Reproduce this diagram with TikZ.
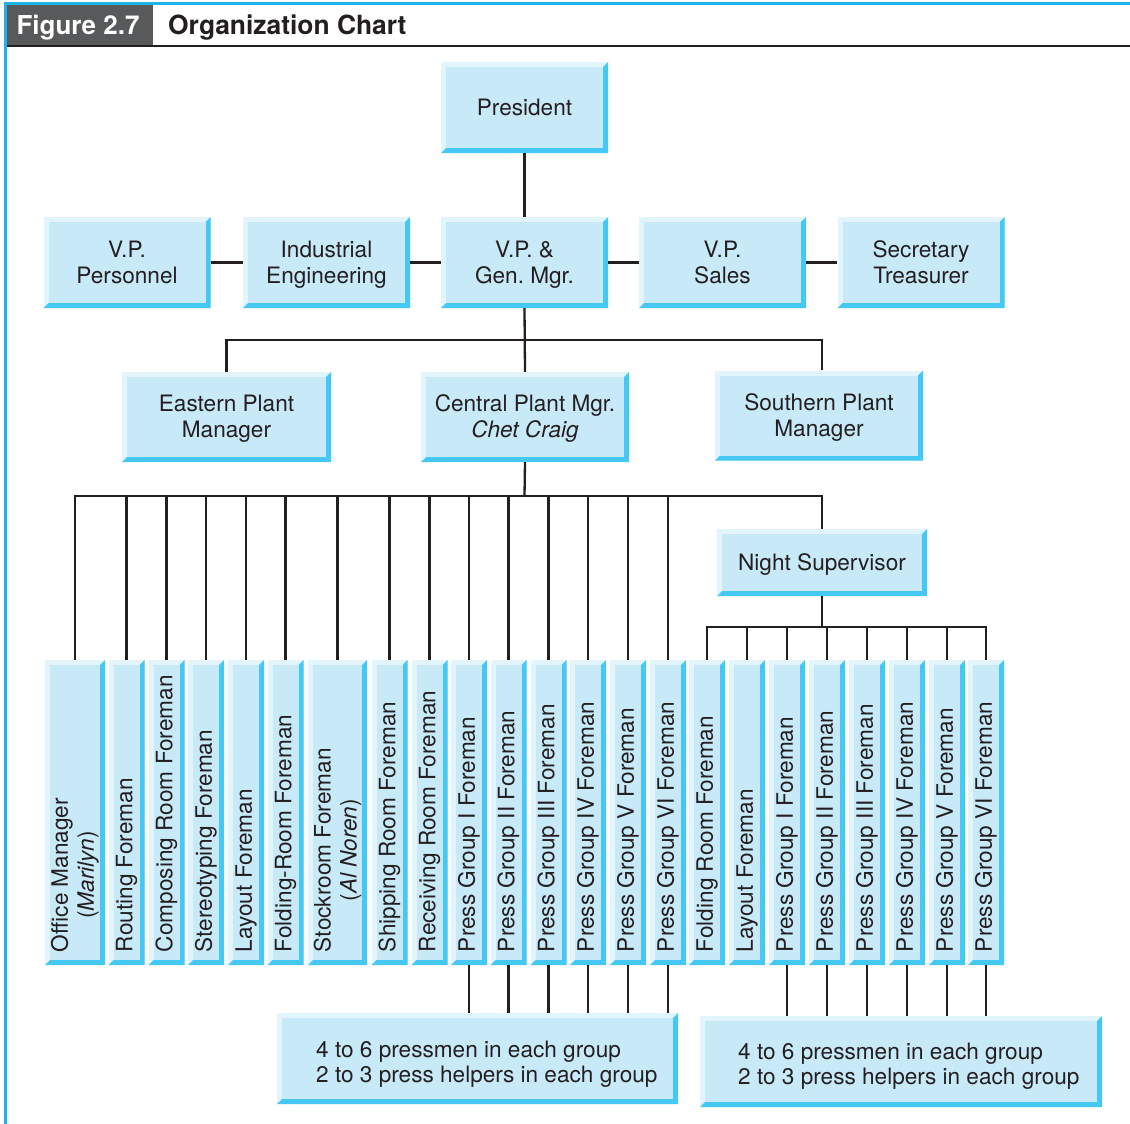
\documentclass[tikz,border=0pt]{standalone}
\usepackage{fontspec}
\setmainfont{TeX Gyre Heros}
\usetikzlibrary{calc}
\frenchspacing
\definecolor{boxmain}{HTML}{C8E9F8}
\definecolor{boxlight}{HTML}{E2F4FC}
\definecolor{boxdark}{HTML}{45C8F4}
\definecolor{framecol}{HTML}{1EB4E9}
\definecolor{headgray}{HTML}{58595B}
\definecolor{ink}{HTML}{231F20}
\newcommand\lnst{\rule[-5pt]{0pt}{25pt}}
\tikzset{
  bevel/.style={rectangle, inner sep=0pt, fill=boxlight, text=ink,
    font=\fontsize{22.6}{26}\selectfont, align=center,
    path picture={
      \fill[boxdark] (path picture bounding box.north east)
        -- (path picture bounding box.south east)
        -- (path picture bounding box.south west)
        -- ([shift={(5pt,5pt)}]path picture bounding box.south west)
        -- ([shift={(-5pt,5pt)}]path picture bounding box.south east)
        -- ([shift={(-5pt,-5pt)}]path picture bounding box.north east) -- cycle;
      \fill[boxmain] ([shift={(5pt,5pt)}]path picture bounding box.south west)
        rectangle ([shift={(-5pt,-5pt)}]path picture bounding box.north east);
    }},
  hbox/.style={bevel, minimum width=167pt, minimum height=91pt},
  vbox/.style={bevel, minimum width=#1, minimum height=305pt},
  vbox/.default=36pt,
  vtxt/.style={rotate=90, anchor=west, inner sep=0pt, text=ink,
    font=\fontsize{22.6}{26}\selectfont, align=center},
  gtxt/.style={anchor=north west, inner sep=0pt, text=ink,
    font=\fontsize{22.6}{25}\selectfont, align=left},
  conn/.style={draw=ink, line width=2.3pt},
}
\begin{document}
\begin{tikzpicture}[x=1pt,y=-1pt]
\useasboundingbox (0,0) rectangle (1130,1124);
\fill[white] (0,0) rectangle (1130,1124);
% frame and header
\draw[framecol, line width=3pt] (5.5,1124) -- (5.5,4) -- (1130,4);
\fill[headgray] (7,5.5) rectangle (153,45);
\draw[ink, line width=2.5pt] (7,46) -- (1130,46);
\node[anchor=base, inner sep=0pt, text=white, font=\fontsize{26}{30}\selectfont\bfseries] (fig) at (78,35) {Figure 2.7};
\node[anchor=base west, inner sep=0pt, text=ink, font=\fontsize{26.4}{30}\selectfont\bfseries] (title) at (168,35) {Organization Chart};

% top levels
\node[hbox] (pres) at (524.5,107.5) {\lnst President};
\node[hbox] (vpp) at (127,262.5) {\lnst V.P.\\\lnst Personnel};
\node[hbox] (ie) at (326.5,262.5) {\lnst Industrial\\\lnst Engineering};
\node[hbox] (vpgm) at (524.5,262.5) {\lnst V.P. \&\\\lnst Gen. Mgr.};
\node[hbox] (vps) at (722.5,262.5) {\lnst V.P.\\\lnst Sales};
\node[hbox] (sec) at (921,262.5) {\lnst Secretary\\\lnst Treasurer};
\node[hbox, minimum width=209pt, minimum height=90pt] (east) at (226.5,417) {\lnst Eastern Plant\\\lnst Manager};
\node[hbox, minimum width=208pt, minimum height=90pt] (cent) at (525,417) {\lnst Central Plant Mgr.\\\lnst\textit{Chet Craig}};
\node[hbox, minimum width=208pt, minimum height=90pt] (south) at (819,415.5) {\lnst Southern Plant\\\lnst Manager};
\node[hbox, minimum width=210pt, minimum height=67pt] (night) at (822,562.5) {\lnst Night Supervisor};

% vertical boxes
\foreach \n/\x/\w in {1/75/60pt, 2/126.5/36pt, 3/166.5/36pt, 4/206/36pt, 5/246/36pt, 6/285.5/36pt,
  7/337.5/59pt, 8/389.5/36pt, 9/429.5/36pt, 10/469/36pt, 11/508.5/36pt, 12/548.5/36pt,
  13/588/36pt, 14/628/36pt, 15/668/36pt, 16/707/36pt, 17/747/36pt, 18/787/36pt,
  19/827/36pt, 20/867/36pt, 21/907/36pt, 22/947/36pt, 23/986/36pt}
  {\node[vbox=\w] (b\n) at (\x,812.5) {};}

\foreach \n/\t in {1/{Office Manager\\(\textit{Marilyn})}, 2/{Routing Foreman}, 3/{Composing Room Foreman},
  4/{Stereotyping Foreman}, 5/{Layout Foreman}, 6/{Folding-Room Foreman},
  7/{Stockroom Foreman\\(\textit{Al Noren})}, 8/{Shipping Room Foreman}, 9/{Receiving Room Foreman},
  10/{Press Group I Foreman}, 11/{Press Group II Foreman}, 12/{Press Group III Foreman},
  13/{Press Group IV Foreman}, 14/{Press Group V Foreman}, 15/{Press Group VI Foreman},
  16/{Folding Room Foreman}, 17/{Layout Foreman}, 18/{Press Group I Foreman},
  19/{Press Group II Foreman}, 20/{Press Group III Foreman}, 21/{Press Group IV Foreman},
  22/{Press Group V Foreman}, 23/{Press Group VI Foreman}}
  {\node[vtxt] (t\n) at ([yshift=13pt]b\n.south) {\t};}

% group boxes
\node[bevel, minimum width=401pt, minimum height=91pt] (grpL) at (477.5,1058.5) {};
\node[bevel, minimum width=402pt, minimum height=91pt] (grpR) at (901,1061.5) {};
\node[gtxt] (gl) at (316,1037) {\lnst 4 to 6 pressmen in each group\\\lnst 2 to 3 press helpers in each group};
\node[gtxt] (gr) at (738,1039) {\lnst 4 to 6 pressmen in each group\\\lnst 2 to 3 press helpers in each group};

% connectors
\draw[conn] (pres) -- (vpgm);
\draw[conn] (vpp) -- (ie);
\draw[conn] (ie) -- (vpgm);
\draw[conn] (vpgm) -- (vps);
\draw[conn] (vps) -- (sec);
\coordinate (bar1) at (524.5,340);
\draw[conn] (vpgm.south) -- (cent.north);
\draw[conn] (east.north) |- (bar1) -| ([xshift=3pt]south.north);
\coordinate (bar2) at (524.5,496);
\draw[conn] (cent.south) -- (bar2);
\draw[conn] (b1.north) |- (bar2) -| (night.north);
\foreach \n in {2,...,15} {\draw[conn] (b\n.north) -- (b\n.north |- bar2);}
\coordinate (bar3) at (822,627);
\draw[conn] (night.south) -- (bar3);
\draw[conn] (b16.north) |- (bar3) -| (b23.north);
\foreach \n in {17,...,22} {\draw[conn] (b\n.north) -- (b\n.north |- bar3);}
\foreach \n in {10,...,15} {\draw[conn] (b\n.south) -- (b\n.south |- grpL.north);}
\foreach \n in {18,...,23} {\draw[conn] (b\n.south) -- (b\n.south |- grpR.north);}
\end{tikzpicture}
\end{document}
